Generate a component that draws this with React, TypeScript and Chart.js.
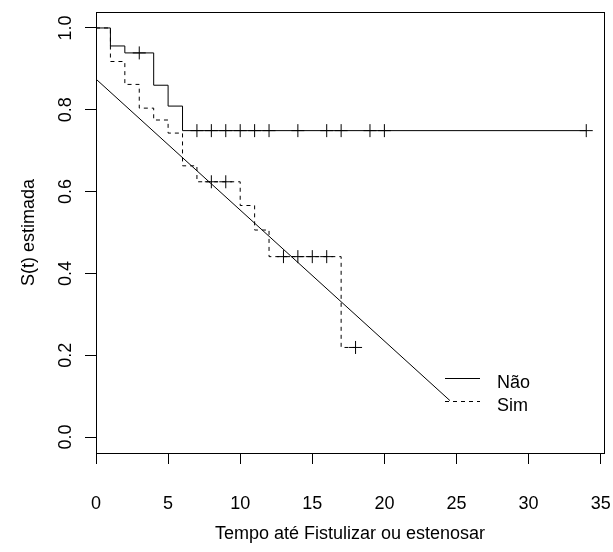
import React, { useEffect, useRef } from 'react';
import { Chart, registerables } from 'chart.js';

Chart.register(...registerables);

const FONT = '"Liberation Sans", Arial, Helvetica, sans-serif';

const xTicks = [0, 5, 10, 15, 20, 25, 30, 35];
const yTicks = [0, 0.2, 0.4, 0.6, 0.8, 1.0];

// Kaplan-Meier, group "Não" (solid)
const naoTimes = [0, 1, 2, 4, 5, 6, 34];
const naoSurv = [1, 0.956, 0.939, 0.86, 0.809, 0.749, 0.749];
const naoCensorTimes = [3, 7, 8, 9, 10, 11, 12, 14, 16, 17, 19, 20, 34];
const naoCensorSurv = [0.939, 0.749, 0.749, 0.749, 0.749, 0.749, 0.749, 0.749, 0.749, 0.749, 0.749, 0.749, 0.749];

// Kaplan-Meier, group "Sim" (dashed)
const simTimes = [0, 1, 2, 3, 4, 5, 6, 7, 10, 11, 12, 17, 18];
const simSurv = [1, 0.918, 0.862, 0.804, 0.775, 0.743, 0.663, 0.624, 0.566, 0.506, 0.441, 0.219, 0.219];
const simCensorTimes = [8, 9, 13, 14, 15, 16, 18];
const simCensorSurv = [0.624, 0.624, 0.441, 0.441, 0.441, 0.441, 0.219];

// fitted straight line
const fitTimes = [0, 24.55];
const fitSurv = [0.875, 0.089];

const legendLabels = ['Não', 'Sim'];
const xTitle = 'Tempo até Fistulizar ou estenosar';
const yTitle = 'S(t) estimada';

const zip = (xs: number[], ys: number[]) => xs.map((x, i) => ({ x, y: ys[i] }));

const boxPlugin = {
  id: 'rbox',
  afterDatasetsDraw(chart: any) {
    const { ctx, chartArea } = chart;
    const l = Math.round(chartArea.left) + 0.5;
    const t = Math.round(chartArea.top) + 0.5;
    const r = Math.round(chartArea.right) + 0.5;
    const b = Math.round(chartArea.bottom) + 0.5;
    ctx.save();
    ctx.strokeStyle = '#000';
    ctx.lineWidth = 1;
    ctx.setLineDash([]);
    ctx.strokeRect(l, t, r - l, b - t);
    ctx.restore();
  },
};

const legendPlugin = {
  id: 'rlegend',
  afterDatasetsDraw(chart: any) {
    const { ctx, chartArea } = chart;
    const { left, top } = chartArea;
    ctx.save();
    ctx.strokeStyle = '#000';
    ctx.fillStyle = '#000';
    ctx.lineWidth = 1;
    ctx.font = `18px ${FONT}`;
    ctx.textBaseline = 'alphabetic';
    ctx.textAlign = 'left';
    legendLabels.forEach((lab, i) => {
      const ds = chart.data.datasets[i];
      const y = Math.round(top + 366.3 + i * 22.4) + 0.5;
      ctx.setLineDash(ds.borderDash || []);
      ctx.beginPath();
      ctx.moveTo(left + 349, y);
      ctx.lineTo(left + 384, y);
      ctx.stroke();
      ctx.setLineDash([]);
      ctx.fillText(lab, left + 401, top + 376.3 + i * 22.7);
    });
    ctx.restore();
  },
};

export default function App() {
  const ref = useRef<HTMLCanvasElement | null>(null);

  useEffect(() => {
    if (!ref.current) return;
    const font = { family: FONT, size: 18 };
    const chart = new Chart(ref.current, {
      type: 'scatter',
      data: {
        datasets: [
          {
            label: legendLabels[0],
            data: zip(naoTimes, naoSurv),
            showLine: true,
            stepped: 'before',
            borderColor: '#000',
            borderWidth: 1,
            pointRadius: 0,
            fill: false,
          },
          {
            label: legendLabels[1],
            data: zip(simTimes, simSurv),
            showLine: true,
            stepped: 'before',
            borderColor: '#000',
            borderWidth: 1,
            borderDash: [4, 4],
            pointRadius: 0,
            fill: false,
          },
          {
            label: 'fit',
            data: zip(fitTimes, fitSurv),
            showLine: true,
            borderColor: '#000',
            borderWidth: 1,
            pointRadius: 0,
            fill: false,
          },
          {
            label: 'nao-censor',
            data: zip(naoCensorTimes, naoCensorSurv),
            showLine: false,
            pointStyle: 'cross',
            pointRadius: 6.5,
            borderColor: '#000',
            borderWidth: 1,
          },
          {
            label: 'sim-censor',
            data: zip(simCensorTimes, simCensorSurv),
            showLine: false,
            pointStyle: 'cross',
            pointRadius: 6.5,
            borderColor: '#000',
            borderWidth: 1,
          },
        ] as any,
      },
      options: {
        responsive: false,
        animation: false,
        events: [],
        layout: { padding: { top: 12, right: 9, left: 0, bottom: 0 } },
        plugins: { legend: { display: false }, tooltip: { enabled: false } },
        scales: {
          x: {
            type: 'linear',
            position: 'bottom',
            min: 0,
            max: 35.23,
            afterBuildTicks: (s: any) => {
              s.ticks = xTicks.map((v) => ({ value: v }));
            },
            afterFit: (s: any) => {
              s.height = 99;
              s.paddingLeft = 0;
              s.paddingRight = 0;
            },
            ticks: {
              autoSkip: false,
              minRotation: 0,
              maxRotation: 0,
              padding: 29,
              color: '#000',
              font,
              callback: (v: any) => String(v),
            },
            grid: { drawOnChartArea: false, drawTicks: true, tickLength: 11, color: '#000', lineWidth: 1 },
            border: { display: true, color: '#000', width: 1 },
            title: { display: true, text: xTitle, color: '#000', font, padding: { top: 0, bottom: 7.5 } },
          },
          y: {
            type: 'linear',
            position: 'left',
            min: -0.039,
            max: 1.039,
            afterBuildTicks: (s: any) => {
              s.ticks = yTicks.map((v) => ({ value: v }));
            },
            afterFit: (s: any) => {
              s.width = 96;
              s.paddingTop = 0;
              s.paddingBottom = 0;
            },
            ticks: {
              autoSkip: false,
              minRotation: 90,
              maxRotation: 90,
              crossAlign: 'center',
              padding: 6,
              color: '#000',
              font,
              callback: (v: any) => Number(v).toFixed(1),
            },
            grid: { drawOnChartArea: false, drawTicks: true, tickLength: 11, color: '#000', lineWidth: 1 },
            border: { display: true, color: '#000', width: 1 },
            title: { display: true, text: yTitle, color: '#000', font, padding: { top: 18, bottom: 0 } },
          },
        },
      } as any,
      plugins: [boxPlugin, legendPlugin],
    });
    return () => chart.destroy();
  }, []);

  return (
    <div style={{ position: 'absolute', left: 0, top: 0, width: 613, height: 552, background: '#fff' }}>
      <canvas ref={ref} width={613} height={552} style={{ display: 'block' }} />
    </div>
  );
}
